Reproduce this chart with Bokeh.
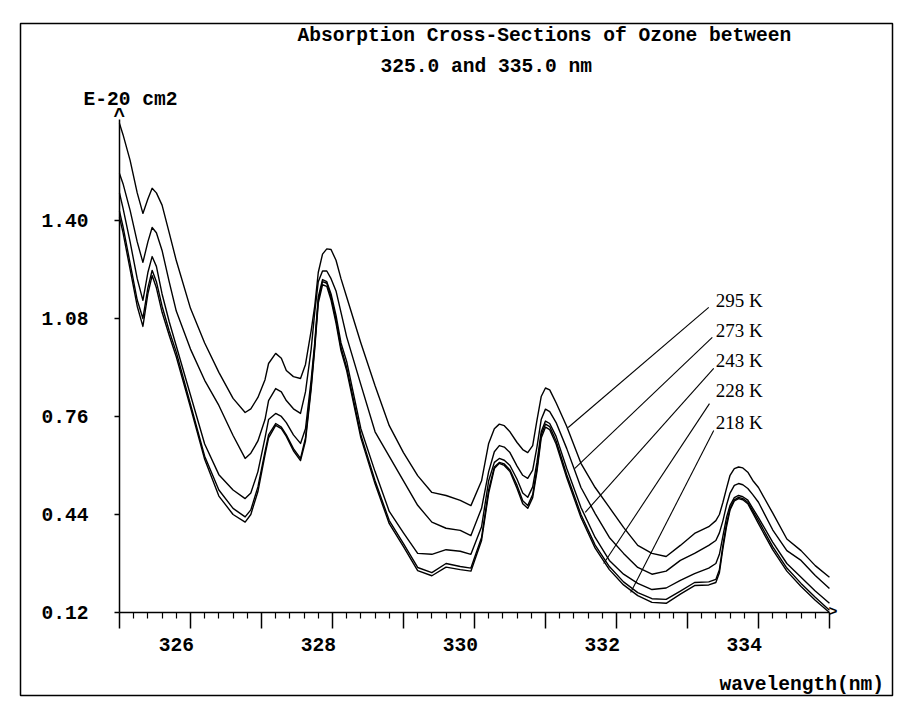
from bokeh.plotting import figure
from bokeh.models import Range1d, FixedTicker, LinearAxis, BoxAnnotation
from bokeh.core.properties import value
from bokeh.embed import file_html
from bokeh.resources import INLINE

# ---------------- data ----------------
wavelength_nm = [325.0, 325.05, 325.15, 325.25, 325.33, 325.4, 325.46, 325.52, 325.6, 325.7, 325.8,
                 326.0, 326.2, 326.4, 326.6, 326.77,
                 326.85, 326.95, 327.05, 327.1, 327.2, 327.28, 327.35, 327.45, 327.55,
                 327.62, 327.7, 327.75, 327.8, 327.86, 327.92, 327.98, 328.05, 328.12, 328.2,
                 328.4, 328.6, 328.8, 329.0, 329.2, 329.4, 329.6, 329.8, 329.95,
                 330.1, 330.2, 330.28, 330.35, 330.42, 330.5, 330.6, 330.68, 330.75, 330.82,
                 330.88, 330.94, 331.0, 331.06, 331.15, 331.3,
                 331.5, 331.7, 331.9, 332.1, 332.3, 332.5, 332.7, 332.9, 333.1, 333.3,
                 333.4, 333.45, 333.5, 333.55, 333.6, 333.66, 333.72, 333.78, 333.85, 333.92, 334.0,
                 334.2, 334.4, 334.6, 334.8, 335.0]

sigma_295K = [1.717, 1.68, 1.596, 1.49, 1.423, 1.47, 1.505, 1.49, 1.45, 1.36, 1.269,
              1.113, 1.0, 0.904, 0.819, 0.773,
              0.785, 0.822, 0.88, 0.933, 0.966, 0.95, 0.91, 0.89, 0.884,
              0.93, 1.04, 1.12, 1.23, 1.29, 1.307, 1.305, 1.27, 1.21, 1.15,
              1.0, 0.86, 0.73, 0.642, 0.567, 0.512, 0.502, 0.486, 0.469,
              0.55, 0.672, 0.72, 0.735, 0.73, 0.71, 0.675, 0.652, 0.642, 0.665,
              0.747, 0.825, 0.853, 0.847, 0.805, 0.727,
              0.607, 0.528, 0.463, 0.398, 0.339, 0.313, 0.303, 0.339, 0.378, 0.40,
              0.42, 0.44, 0.48, 0.525, 0.568, 0.59, 0.595, 0.592, 0.578, 0.551, 0.528,
              0.445, 0.36, 0.322, 0.273, 0.235]

sigma_273K = [1.553, 1.52, 1.433, 1.33, 1.263, 1.33, 1.377, 1.36, 1.302, 1.20, 1.104,
              0.98, 0.878, 0.796, 0.698, 0.623,
              0.64, 0.68, 0.75, 0.812, 0.851, 0.84, 0.812, 0.785, 0.77,
              0.84, 0.98, 1.10, 1.20, 1.235, 1.235, 1.21, 1.17, 1.10, 1.02,
              0.864, 0.71, 0.63, 0.55, 0.47, 0.415, 0.395, 0.388, 0.371,
              0.46, 0.58, 0.645, 0.665, 0.66, 0.642, 0.598, 0.568, 0.558, 0.585,
              0.66, 0.75, 0.784, 0.776, 0.74, 0.655,
              0.528, 0.443, 0.365, 0.313, 0.267, 0.245, 0.255, 0.29, 0.313, 0.339,
              0.355, 0.38, 0.42, 0.47, 0.51, 0.535, 0.541, 0.537, 0.525, 0.505, 0.48,
              0.39, 0.322, 0.29, 0.241, 0.198]

sigma_243K = [1.49, 1.44, 1.33, 1.21, 1.139, 1.23, 1.282, 1.25, 1.16, 1.07, 0.99,
              0.83, 0.67, 0.57, 0.52, 0.492,
              0.51, 0.58, 0.69, 0.75, 0.77, 0.76, 0.74, 0.70, 0.672,
              0.72, 0.88, 1.00, 1.15, 1.207, 1.20, 1.16, 1.09, 1.00, 0.94,
              0.72, 0.58, 0.45, 0.38, 0.313, 0.31, 0.325, 0.32, 0.31,
              0.40, 0.55, 0.61, 0.623, 0.617, 0.60, 0.555, 0.51, 0.496, 0.53,
              0.61, 0.71, 0.745, 0.737, 0.695, 0.59,
              0.463, 0.365, 0.29, 0.245, 0.215, 0.195, 0.20, 0.225, 0.247, 0.265,
              0.28, 0.31, 0.37, 0.43, 0.47, 0.495, 0.502, 0.498, 0.487, 0.46, 0.43,
              0.35, 0.28, 0.235, 0.19, 0.15]

sigma_228K = [1.43, 1.38, 1.26, 1.14, 1.08, 1.18, 1.237, 1.20, 1.12, 1.04, 0.97,
              0.80, 0.63, 0.52, 0.46, 0.432,
              0.455, 0.53, 0.645, 0.70, 0.737, 0.725, 0.70, 0.655, 0.623,
              0.69, 0.86, 0.99, 1.14, 1.20, 1.195, 1.15, 1.075, 0.985, 0.92,
              0.70, 0.55, 0.42, 0.345, 0.267, 0.25, 0.28, 0.27, 0.265,
              0.365, 0.52, 0.595, 0.61, 0.605, 0.585, 0.535, 0.485, 0.469, 0.505,
              0.59, 0.70, 0.735, 0.727, 0.68, 0.57,
              0.44, 0.34, 0.27, 0.22, 0.185, 0.165, 0.163, 0.19, 0.218, 0.22,
              0.228, 0.26, 0.34, 0.41, 0.46, 0.488, 0.496, 0.492, 0.48, 0.452, 0.42,
              0.335, 0.265, 0.215, 0.17, 0.127]

sigma_218K = [1.41, 1.36, 1.24, 1.12, 1.054, 1.16, 1.22, 1.18, 1.10, 1.025, 0.955,
              0.79, 0.62, 0.50, 0.44, 0.415,
              0.44, 0.515, 0.635, 0.69, 0.731, 0.72, 0.695, 0.648, 0.616,
              0.68, 0.85, 0.98, 1.13, 1.19, 1.185, 1.14, 1.065, 0.975, 0.91,
              0.69, 0.54, 0.41, 0.335, 0.257, 0.24, 0.268, 0.26, 0.255,
              0.355, 0.51, 0.59, 0.607, 0.60, 0.58, 0.525, 0.475, 0.46, 0.495,
              0.58, 0.69, 0.725, 0.717, 0.67, 0.56,
              0.43, 0.33, 0.26, 0.21, 0.175, 0.153, 0.15, 0.18, 0.208, 0.21,
              0.218, 0.25, 0.33, 0.40, 0.455, 0.484, 0.492, 0.488, 0.475, 0.445, 0.41,
              0.325, 0.255, 0.205, 0.16, 0.12]

temperature_labels = ["295 K", "273 K", "243 K", "228 K", "218 K"]
y_tick_values = [0.12, 0.44, 0.76, 1.08, 1.40]
y_tick_labels = ["0.12", "0.44", "0.76", "1.08", "1.40"]
x_major_ticks = [325, 326, 327, 328, 329, 330, 331, 332, 333, 334, 335]
x_tick_labels = ["326", "328", "330", "332", "334"]

title_line1 = "Absorption Cross-Sections of Ozone between"
title_line2 = "325.0 and 335.0 nm"
y_unit_text = "E-20 cm2"
x_axis_text = "wavelength(nm)"

# ---------------- layout / annotation positions ----------------
x_label_positions = [325.8, 327.8, 329.8, 331.8, 333.8]
x_minor_ticks = [round(325 + 0.2 * i, 1) for i in range(51) if i % 5 != 0]
label_x = 333.40
label_y = [1.139, 1.041, 0.943, 0.845, 0.740]
leader_x0 = [333.30, 333.35, 333.37, 333.31, 333.37]
leader_y0 = [1.116, 1.018, 0.917, 0.802, 0.714]
leader_x1 = [331.32, 331.41, 331.56, 331.82, 332.20]
leader_y1 = [0.724, 0.590, 0.447, 0.280, 0.185]

MONO = "Liberation Mono"
SERIF = "Liberation Serif"
FS = "19.6px"

p = figure(width=896, height=701,
           x_range=Range1d(323.606, 335.888), y_range=Range1d(-0.151, 2.043),
           output_backend="svg", toolbar_location=None,
           x_axis_location=None, y_axis_location=None,
           min_border_left=20, min_border_top=23, min_border_right=4, min_border_bottom=6)
p.grid.visible = False
p.background_fill_color = "white"
p.border_fill_color = "white"
p.outline_line_color = "black"
p.outline_line_width = 1.5

# axes drawn inside the frame at fixed locations
x_ticks_axis = LinearAxis(fixed_location=0.12, bounds=(325, 335),
                          ticker=FixedTicker(ticks=x_major_ticks, minor_ticks=x_minor_ticks),
                          major_label_overrides={t: "" for t in x_major_ticks},
                          major_tick_in=0, major_tick_out=16, minor_tick_in=0, minor_tick_out=6,
                          axis_line_width=1.5, major_tick_line_width=1.5, minor_tick_line_width=1.2,
                          axis_line_color="black", major_tick_line_color="black",
                          minor_tick_line_color="black")
p.add_layout(x_ticks_axis, "below")

x_labels_axis = LinearAxis(fixed_location=0.12,
                           ticker=FixedTicker(ticks=x_label_positions, minor_ticks=[]),
                           major_label_overrides=dict(zip(x_label_positions, x_tick_labels)),
                           axis_line_color=None, major_tick_line_color=None,
                           minor_tick_line_color=None, major_tick_in=0, major_tick_out=0,
                           major_label_standoff=26,
                           major_label_text_font=MONO, major_label_text_font_style="bold",
                           major_label_text_font_size=FS, major_label_text_color="black")
p.add_layout(x_labels_axis, "below")

y_axis = LinearAxis(fixed_location=325, bounds=(0.12, 1.73),
                    ticker=FixedTicker(ticks=y_tick_values, minor_ticks=[]),
                    major_label_overrides=dict(zip(y_tick_values, y_tick_labels)),
                    major_tick_in=0, major_tick_out=5, minor_tick_line_color=None,
                    axis_line_width=1.5, major_tick_line_width=1.5,
                    axis_line_color="black", major_tick_line_color="black",
                    major_label_standoff=26,
                    major_label_text_font=MONO, major_label_text_font_style="bold",
                    major_label_text_font_size=FS, major_label_text_color="black")
p.add_layout(y_axis, "left")

# curves
for series in [sigma_295K, sigma_273K, sigma_243K, sigma_228K, sigma_218K]:
    p.line(wavelength_nm, series, line_color="black", line_width=1.4, line_join="round")

# leader lines and temperature labels
p.segment(x0=leader_x0, y0=leader_y0, x1=leader_x1, y1=leader_y1,
          line_color="black", line_width=1.1)
p.text(x=[label_x] * 5, y=label_y, text=temperature_labels,
       text_font=value(SERIF), text_font_size=value("19px"), text_color="black",
       text_align="left", text_baseline="middle")

# titles and axis texts
p.text(x=[327.507, 328.676, 324.493, 333.451],
       y=[2.001, 1.900, 1.792, -0.118],
       text=[title_line1, title_line2, y_unit_text, x_axis_text],
       text_font=value(MONO), text_font_style="bold", text_font_size=value(FS),
       text_color="black", text_align="left", text_baseline="middle")

# axis arrow heads
p.text(x=[325.0], y=[1.738], text=["^"], text_font=value(MONO), text_font_style="bold",
       text_font_size=value(FS), text_align="center", text_baseline="middle")
p.text(x=[335.05], y=[0.12], text=[">"], text_font=value(MONO), text_font_style="bold",
       text_font_size=value("15px"), text_align="center", text_baseline="middle")

# outer frame (only its left and top edges fall inside the page)
outer = BoxAnnotation(left=5.5, right=3000, top=5.5, bottom=3000,
                      left_units="canvas", right_units="canvas",
                      top_units="canvas", bottom_units="canvas",
                      fill_color=None, line_color="black", line_width=1)
p.add_layout(outer)

open("out.html", "w").write(file_html(p, INLINE))
